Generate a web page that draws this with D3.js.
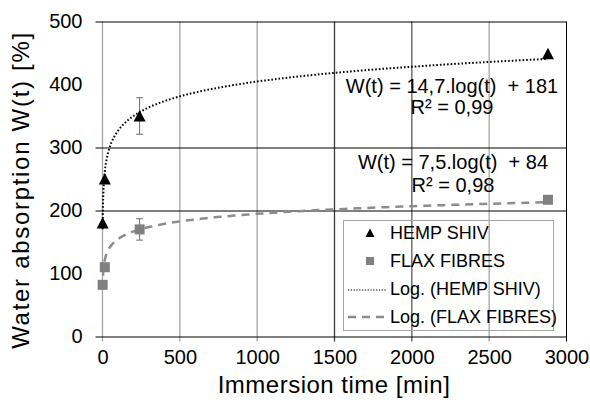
<!DOCTYPE html>
<html>
<head>
<meta charset="utf-8">
<script src="https://cdn.jsdelivr.net/npm/d3@7"></script>
<style>
  body { margin: 0; background: #fff; }
  svg { display: block; font-family: "Liberation Sans", Arial, sans-serif; }
  .eq { white-space: pre; }
</style>
</head>
<body>
<div id="chart"></div>
<script>
// measurement times [min] and water absorption [%]
var times = [1, 15, 240, 2880];
var hempValues = [180, 250, 350, 449];
var flaxValues = [82, 110, 170, 217];
var hempErrors = [0, 0, 29, 0];
var flaxErrors = [0, 0, 17, 0];

var xTicks = [0, 500, 1000, 1500, 2000, 2500, 3000];
var yTicks = [0, 100, 200, 300, 400, 500];

var seriesNames = ["HEMP SHIV", "FLAX FIBRES"];
var hempEquation = ["W(t) = 14,7.log(t)  + 181", "R\u00b2 = 0,99"];
var flaxEquation = ["W(t) = 7,5.log(t)  + 84", "R\u00b2 = 0,98"];

var width = 590, height = 412;

var svg = d3.select("#chart").append("svg")
    .attr("width", width)
    .attr("height", height);

svg.append("rect").attr("width", width).attr("height", height).attr("fill", "#fff");

var x = d3.scaleLinear().domain([0, 3000]).range([102.5, 566.5]);
var y = d3.scaleLinear().domain([0, 500]).range([336.5, 21.5]);

// least squares fit W = a ln(t) + b, like the spreadsheet's log trendline
function logFit(ts, ws) {
  var lx = ts.map(Math.log);
  var mx = d3.mean(lx), my = d3.mean(ws);
  var sxy = d3.sum(lx, (v, i) => (v - mx) * (ws[i] - my));
  var sxx = d3.sum(lx, v => (v - mx) * (v - mx));
  var a = sxy / sxx;
  return {a: a, b: my - a * mx};
}

// vertical grid (some lines came out darker in the reference)
function vColor(d) {
  if (d === 3000) return "#000";
  if (d === 1500) return "#3c3c3c";
  if (d === 2000) return "#5c5c5c";
  return "#a6a6a6";
}
svg.append("g").selectAll("line")
  .data(xTicks)
  .join("line")
    .attr("x1", d => x(d)).attr("x2", d => x(d))
    .attr("y1", y(500)).attr("y2", y(0) + 5)
    .attr("stroke", vColor)
    .attr("stroke-width", d => d === 3000 ? 1 : 1.3);

// horizontal grid
var yAxis = svg.append("g")
    .attr("transform", "translate(" + x(3000) + ",0)")
    .call(d3.axisLeft(y).tickValues(yTicks).tickSize(x(3000) - x(0) + 7).tickFormat(""));
yAxis.select(".domain").remove();
yAxis.selectAll(".tick line").attr("stroke", "#000")
    // the 100 and 400 lines vanished when the reference was shrunk
    .attr("stroke-opacity", d => (d === 100 || d === 400) ? 0 : 1);

// tick labels
var yLabels = svg.append("g")
    .attr("transform", "translate(" + x(0) + ",0)")
    .call(d3.axisLeft(y).tickValues(yTicks).tickSize(0).tickPadding(20));
yLabels.select(".domain").remove();
yLabels.attr("font-family", null);
yLabels.selectAll("text").attr("font-size", 20).attr("fill", "#000");

var xLabels = svg.append("g")
    .attr("transform", "translate(0," + y(0) + ")")
    .call(d3.axisBottom(x).tickValues(xTicks).tickFormat(d3.format("d")).tickSize(0).tickPadding(13));
xLabels.select(".domain").remove();
xLabels.attr("font-family", null);
xLabels.selectAll("text").attr("font-size", 20).attr("fill", "#000");

// axis titles
svg.append("text")
    .attr("transform", "translate(29,190) rotate(-90)")
    .attr("text-anchor", "middle")
    .attr("font-size", 24)
    .attr("letter-spacing", 1.7)
    .text("Water absorption W(t) [%]");

svg.append("text")
    .attr("x", 334).attr("y", 393)
    .attr("text-anchor", "middle")
    .attr("font-size", 24)
    .attr("letter-spacing", 0.5)
    .text("Immersion time [min]");

// trendlines
var tCurve = d3.range(0, 301).map(i => Math.pow(2880, i / 300));
var hempFit = logFit(times, hempValues);
var flaxFit = logFit(times, flaxValues);
var line = d3.line().x(d => x(d[0])).y(d => y(d[1]));

svg.append("path")
    .attr("d", line(tCurve.map(t => [t, hempFit.a * Math.log(t) + hempFit.b])))
    .attr("fill", "none").attr("stroke", "#000")
    .attr("stroke-width", 2).attr("stroke-dasharray", "1.6 2");

svg.append("path")
    .attr("d", line(tCurve.map(t => [t, flaxFit.a * Math.log(t) + flaxFit.b])))
    .attr("fill", "none").attr("stroke", "#8c8c8c")
    .attr("stroke-width", 2.5).attr("stroke-dasharray", "8 6");

// error bars
function errorBars(vals, errs, color) {
  var pts = times.map((t, i) => ({t: t, v: vals[i], e: errs[i]})).filter(d => d.e > 0);
  var g = svg.append("g").attr("stroke", color).attr("stroke-width", 1);
  g.selectAll(".v").data(pts).join("line")
    .attr("x1", d => x(d.t)).attr("x2", d => x(d.t))
    .attr("y1", d => y(d.v - d.e)).attr("y2", d => y(d.v + d.e));
  [-1, 1].forEach(s => {
    g.selectAll(".c" + s).data(pts).join("line")
      .attr("x1", d => x(d.t) - 3.5).attr("x2", d => x(d.t) + 3.5)
      .attr("y1", d => y(d.v + s * d.e)).attr("y2", d => y(d.v + s * d.e));
  });
}
errorBars(hempValues, hempErrors, "#6f6f6f");
errorBars(flaxValues, flaxErrors, "#6f6f6f");

// markers
var triangle = "M0,-6L6,5.5L-6,5.5Z";
svg.append("g").selectAll("path")
  .data(times.map((t, i) => [t, hempValues[i]]))
  .join("path")
    .attr("d", triangle)
    .attr("transform", d => "translate(" + x(d[0]) + "," + y(d[1]) + ")")
    .attr("fill", "#000");

svg.append("g").selectAll("rect")
  .data(times.map((t, i) => [t, flaxValues[i]]))
  .join("rect")
    .attr("x", d => x(d[0]) - 5).attr("y", d => y(d[1]) - 5)
    .attr("width", 10).attr("height", 10)
    .attr("fill", "#808080");

// trendline equations
function equation(lines, cx, y0, y1) {
  var g = svg.append("g").attr("text-anchor", "middle").attr("font-size", 20);
  g.append("text").attr("class", "eq").attr("x", cx).attr("y", y0).text(lines[0]);
  g.append("text").attr("class", "eq").attr("x", cx).attr("y", y1).text(lines[1]);
}
equation(hempEquation, 452, 93, 114);
equation(flaxEquation, 453, 169, 192);

// legend
var lg = svg.append("g");
lg.append("rect")
    .attr("x", 343.5).attr("y", 220.5).attr("width", 210).attr("height", 110)
    .attr("fill", "none").attr("stroke", "#a6a6a6");
var rows = [233, 261, 289, 317];
var labels = [seriesNames[0], seriesNames[1], "Log. (" + seriesNames[0] + ")", "Log. (" + seriesNames[1] + ")"];
lg.selectAll("text").data(labels).join("text")
    .attr("x", 390).attr("y", (d, i) => rows[i])
    .attr("dy", "0.35em").attr("font-size", 18)
    .text(d => d);
lg.append("path").attr("d", "M0,-4.5L4.5,4L-4.5,4Z")
    .attr("transform", "translate(370," + rows[0] + ")").attr("fill", "#000");
lg.append("rect").attr("x", 366).attr("y", rows[1] - 4).attr("width", 8).attr("height", 8)
    .attr("fill", "#808080");
lg.append("line").attr("x1", 348).attr("x2", 387).attr("y1", rows[2] + 1).attr("y2", rows[2] + 1)
    .attr("stroke", "#000").attr("stroke-width", 1.2).attr("stroke-dasharray", "1.3 1.5");
lg.append("line").attr("x1", 348).attr("x2", 387).attr("y1", rows[3]).attr("y2", rows[3])
    .attr("stroke", "#8c8c8c").attr("stroke-width", 2.5).attr("stroke-dasharray", "8 6");
</script>
</body>
</html>
